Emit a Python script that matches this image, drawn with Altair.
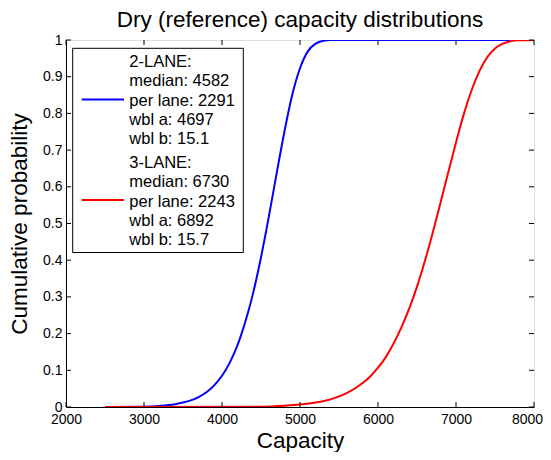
import altair as alt
import pandas as pd

# ---- data ----
two_lane_capacity = [2500, 3000, 3200, 3400, 3500, 3600, 3700, 3800, 3900, 4000, 4100, 4200,
                     4300, 4400, 4500, 4600, 4700, 4800, 4900, 5000, 5100, 5200, 5300, 5400, 8000]
two_lane_prob = [0.000, 0.001, 0.003, 0.0076, 0.012, 0.018, 0.027, 0.040, 0.059, 0.085, 0.121, 0.169,
                 0.233, 0.311, 0.408, 0.518, 0.636, 0.750, 0.850, 0.923, 0.969, 0.990, 0.998, 1.000, 1.000]

three_lane_capacity = [2500, 4500, 4800, 5000, 5200, 5400, 5600, 5800, 5900, 6000, 6100, 6200, 6300,
                       6400, 6500, 6600, 6700, 6800, 6900, 7000, 7100, 7200, 7300, 7400, 7500, 7600,
                       7700, 7800, 8000]
three_lane_prob = [0.000, 0.001, 0.0034, 0.0065, 0.012, 0.0215, 0.0377, 0.0645, 0.083, 0.107, 0.136,
                   0.173, 0.217, 0.268, 0.328, 0.397, 0.4735, 0.555, 0.639, 0.721, 0.798, 0.863, 0.915,
                   0.953, 0.977, 0.990, 0.9965, 0.999, 1.000]

series = ["2-LANE", "3-LANE"]
colors = ["#0000FF", "#FF0000"]
medians = [4582, 6730]
per_lane = [2291, 2243]
wbl_a = [4697, 6892]
wbl_b = [15.1, 15.7]

x_ticks = [2000, 3000, 4000, 5000, 6000, 7000, 8000]
y_ticks = [0, 0.1, 0.2, 0.3, 0.4, 0.5, 0.6, 0.7, 0.8, 0.9, 1]

W, H = 468, 367
FONT = "Liberation Sans"

curve_data = [
    pd.DataFrame({"capacity": two_lane_capacity, "prob": two_lane_prob, "series": series[0]}),
    pd.DataFrame({"capacity": three_lane_capacity, "prob": three_lane_prob, "series": series[1]}),
]

xs = alt.Scale(domain=[2000, 8000], nice=False, zero=False, padding=0)
ys = alt.Scale(domain=[0, 1], nice=False, zero=False, padding=0)
cs = alt.Scale(domain=series, range=colors)

x_axis = alt.Axis(values=x_ticks, format="d", title="Capacity", grid=False, ticks=False, tickSize=0,
                  labelFontSize=14, labelPadding=5, labelColor="black", labelOverlap=False,
                  labelFlush=False, labelOffset=alt.expr("datum.value == 8000 ? -7 : 0"),
                  titleFontSize=22.5, titleFontWeight="normal", titleColor="black", titlePadding=3,
                  domainColor="black", domainWidth=1, labelFont=FONT, titleFont=FONT)
y_axis = alt.Axis(values=y_ticks, format="~g", title="Cumulative probability", grid=False, ticks=False,
                  tickSize=0, labelFontSize=14, labelPadding=4, labelColor="black", labelOverlap=False,
                  labelFlush=False,
                  titleFontSize=22.5, titleFontWeight="normal", titleColor="black", titlePadding=11,
                  domainColor="black", domainWidth=1, labelFont=FONT, titleFont=FONT)

layers = []
for i, df in enumerate(curve_data):
    layers.append(
        alt.Chart(df).mark_line(strokeWidth=2, interpolate="monotone", clip=True).encode(
            x=alt.X("capacity:Q", scale=xs, axis=x_axis),
            y=alt.Y("prob:Q", scale=ys, axis=y_axis),
            color=alt.Color("series:N", scale=cs, legend=None),
        )
    )

# inward ticks on all four sides (MATLAB style box)
xt = pd.DataFrame({"t": x_ticks})
yt = pd.DataFrame({"t": y_ticks})
tick_style = dict(color="black", strokeWidth=1)
layers.append(alt.Chart(xt).mark_rule(**tick_style).encode(
    x=alt.X("t:Q", scale=xs, axis=x_axis), y=alt.value(H), y2=alt.value(H - 5)))
layers.append(alt.Chart(xt).mark_rule(**tick_style).encode(
    x=alt.X("t:Q", scale=xs, axis=x_axis), y=alt.value(0), y2=alt.value(5)))
layers.append(alt.Chart(yt).mark_rule(**tick_style).encode(
    y=alt.Y("t:Q", scale=ys, axis=y_axis), x=alt.value(0), x2=alt.value(5)))
layers.append(alt.Chart(yt).mark_rule(**tick_style).encode(
    y=alt.Y("t:Q", scale=ys, axis=y_axis), x=alt.value(W), x2=alt.value(W - 5)))

# legend box (MATLAB style)
one = pd.DataFrame({"k": [0]})
layers.append(alt.Chart(one).mark_rect(fill="white", stroke="black", strokeWidth=1).encode(
    x=alt.value(6.7), x2=alt.value(177.3), y=alt.value(8.3), y2=alt.value(212.5)))
for i, name in enumerate(series):
    lines = [
        f"{name}:",
        f"median: {medians[i]}",
        f"per lane: {per_lane[i]}",
        f"wbl a: {wbl_a[i]}",
        f"wbl b: {wbl_b[i]}",
    ]
    layers.append(alt.Chart(one).mark_rule(color=colors[i], strokeWidth=2).encode(
        x=alt.value(15.7), x2=alt.value(58), y=alt.value(59.5 + i * 100.5)))
    layers.append(alt.Chart(one).mark_text(
        text=lines, align="left", baseline="alphabetic", fontSize=16.5, lineHeight=19.2,
        font=FONT, color="black").encode(
        x=alt.value(63.3), y=alt.value(27.3 + i * 101)))

chart = alt.layer(*layers).properties(
    width=W, height=H,
    title=alt.TitleParams("Dry (reference) capacity distributions", fontSize=22.5, font=FONT,
                          fontWeight="normal", color="black", anchor="middle", offset=2),
    autosize=alt.AutoSizeParams(type="none"),
    padding={"left": 58, "top": 32, "right": 9, "bottom": 45},
).configure_view(stroke="black", strokeWidth=1).configure(font=FONT, background="white")

chart.save("out.html", embed_options={"renderer": "svg", "actions": False})
